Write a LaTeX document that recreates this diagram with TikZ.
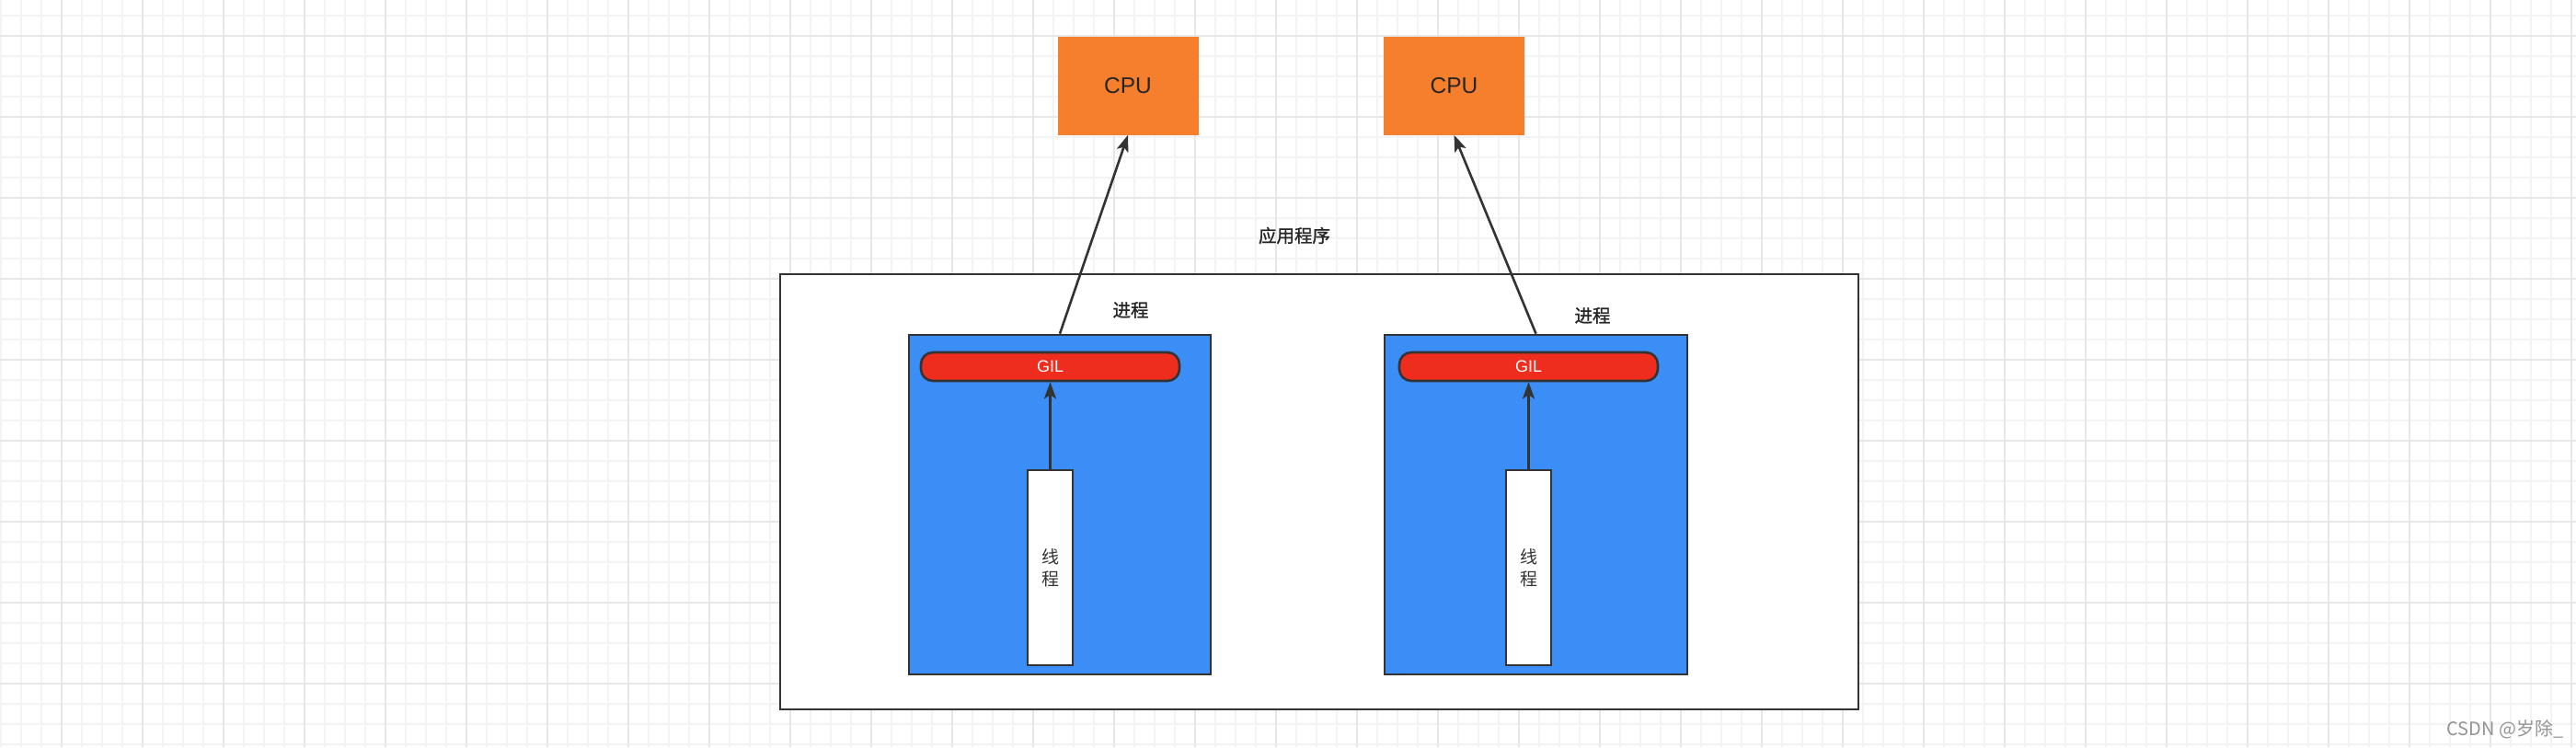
\documentclass[tikz,border=0pt]{standalone}
\usepackage{fontspec}
\setmainfont{Liberation Sans}
\newfontfamily\cjk{Noto Sans CJK SC}
\newfontfamily\cjkheavy[FakeBold=1.2]{Noto Sans CJK SC}
\usetikzlibrary{arrows.meta}

\definecolor{cpuorange}{HTML}{F57F2C}
\definecolor{procblue}{HTML}{3A8EF6}
\definecolor{gilred}{HTML}{EF2D1E}
\definecolor{edgegray}{HTML}{333333}
\definecolor{minorgray}{HTML}{F3F3F3}
\definecolor{majorgray}{HTML}{E7E7E7}

\tikzset{
	minorline/.style={minorgray, line width=1.6pt},
	majorline/.style={majorgray, line width=1.8pt},
	cpubox/.style={fill=cpuorange, draw=none, minimum width=153pt, minimum height=107pt,
		inner sep=0pt, font=\fontsize{24.5}{28}\selectfont, text=black!85},
	appbox/.style={fill=white, draw=edgegray, line width=2.6pt, minimum width=1172pt,
		minimum height=473pt, inner sep=0pt},
	procbox/.style={fill=procblue, draw=edgegray, line width=2.6pt, minimum width=328pt,
		minimum height=369pt, inner sep=0pt},
	gilbar/.style={fill=gilred, draw=edgegray, line width=2.6pt, rounded corners=13pt,
		minimum width=281pt, minimum height=31pt, inner sep=0pt,
		font=\fontsize{18}{20}\selectfont, text=white},
	threadbox/.style={fill=white, draw=edgegray, line width=2.8pt, minimum width=49pt,
		minimum height=212pt, inner sep=0pt, align=center,
		font=\cjk\fontsize{19}{24}\selectfont, text=edgegray},
	tag/.style={font=\cjkheavy\fontsize{19.5}{22}\selectfont, text=black!85, inner sep=0pt},
	flow/.style={-{Stealth[length=18pt, width=13pt, inset=4pt]}, draw=edgegray,
		line width=2.6pt}
}

\begin{document}
\begin{tikzpicture}[x=1pt, y=-1pt, line cap=butt, line join=miter]
	
	% Define bounding box
	\def\xmax{2800} \def\ymax{812}
	\useasboundingbox (0,0) rectangle (\xmax,\ymax);
	\fill[white] (0,0) rectangle (\xmax,\ymax);
	
	% Background grid
	\foreach \gx in {0,...,127}
		\draw[minorline] ({0.7+22*\gx},0) -- ({0.7+22*\gx},\ymax);
	\foreach \gy in {0,...,36}
		\draw[minorline] (0,{17+22*\gy}) -- (\xmax,{17+22*\gy});
	\foreach \gx in {0,...,31}
		\draw[majorline] ({66.7+88*\gx},0) -- ({66.7+88*\gx},\ymax);
	\foreach \gy in {0,...,8}
		\draw[majorline] (0,{39+88*\gy}) -- (\xmax,{39+88*\gy});
	
	% CPUs
	\node[cpubox] (cpuA) at (1226,93) {CPU};
	\node[cpubox] (cpuB) at (1580.5,93) {CPU};
	
	% Application and its processes
	\node[appbox] (app) at (1434,534.5) {};
	\node[tag] (appLabel) at (1407,256) {应用程序};
	
	\node[procbox] (procA) at (1152,548.5) {};
	\node[procbox, minimum width=329pt] (procB) at (1669.5,548.5) {};
	\node[tag] (procALabel) at (1229,337) {进程};
	\node[tag] (procBLabel) at (1731,343) {进程};
	
	% GIL bars
	\node[gilbar] (gilA) at (1141.5,398.5) {GIL};
	\node[gilbar] (gilB) at (1661.5,398.5) {GIL};
	
	% Threads
	\node[threadbox] (threadA) at (1141.5,617) {线\\程};
	\node[threadbox] (threadB) at (1661.5,617) {线\\程};
	
	% Arrows
	\draw[flow] (threadA.north) -- (gilA.south);
	\draw[flow] (threadB.north) -- (gilB.south);
	\draw[flow] (procA.north) -- (cpuA.south);
	\draw[flow] (procB.north) -- (cpuB.south);
	
	% Watermark
	\node[font=\cjk\fontsize{20}{22}\selectfont, text=black!42, inner sep=0pt] (mark)
		at (2723,793) {CSDN @岁除\_};
	
\end{tikzpicture}
\end{document}
